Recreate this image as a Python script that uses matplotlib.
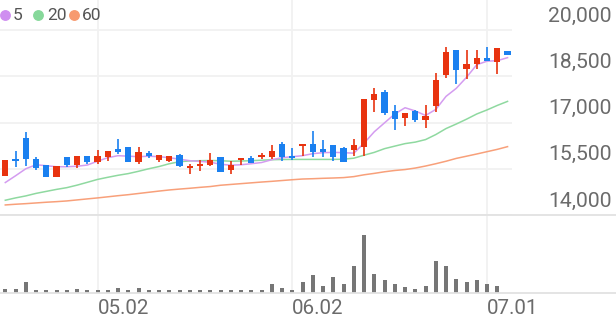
import matplotlib
matplotlib.use('Agg')
import matplotlib.pyplot as plt
import matplotlib.transforms as mtransforms
from matplotlib.lines import Line2D
import numpy as np

plt.rcParams['font.family'] = ['Roboto', 'DejaVu Sans']

# ---------------- data ----------------
opens = [15262, 15816, 16488, 15816, 15620, 15218, 15868, 15620, 15901, 15706,
         15868, 16129, 16194, 15728, 16011, 15793, 15761, 15946, 15522, 15598,
         15620, 15868, 15457, 15783, 15836, 15868, 15868, 16305, 15891, 16250,
         16305, 16142, 16283, 16162, 16120, 16217, 17740, 17989, 17368, 17140,
         17358, 17088, 17522, 18555, 19348, 18751, 18891, 19077, 18966, 19325]
highs = [15783, 16064, 16706, 15868, 15620, 15598, 15868, 15901, 15901, 16110,
         16064, 16468, 16194, 16217, 16087, 15946, 15901, 15979, 15653, 15783,
         16000, 15868, 15761, 15836, 15901, 16000, 16272, 16358, 16162, 16305,
         16716, 16436, 16283, 16194, 16468, 17773, 18131, 18043, 17554, 17303,
         17414, 17554, 18621, 19455, 19348, 19348, 19348, 19455, 19403, 19325]
lows = [15262, 15542, 15598, 15467, 15218, 15218, 15565, 15510, 15653, 15653,
        15761, 15979, 15728, 15653, 15836, 15706, 15706, 15565, 15327, 15435,
        15598, 15380, 15327, 15630, 15685, 15816, 15816, 15761, 15783, 15924,
        15868, 15891, 15738, 15706, 15924, 15924, 17336, 17228, 16762, 16902,
        17010, 16827, 17336, 18445, 18262, 18425, 18751, 18989, 18565, 19185]
closes = [15783, 15738, 15803, 15522, 15218, 15598, 15620, 15901, 15706, 15901,
          16064, 16031, 15728, 16031, 15901, 15946, 15901, 15598, 15565, 15653,
          15783, 15380, 15620, 15836, 15685, 15946, 16087, 15868, 15848, 16305,
          16031, 16054, 15868, 15728, 16272, 17773, 17936, 17303, 17121, 17303,
          17088, 17196, 18392, 19292, 18718, 18891, 19077, 18989, 19403, 19185]

ma5 = [15053, 15272, 15500, 15630, 15598, 15565, 15565, 15581, 15620, 15745,
       15859, 15924, 15908, 15891, 15908, 15891, 15859, 15810, 15761, 15738,
       15712, 15647, 15614, 15630, 15663, 15702, 15793, 15859, 15891, 15924,
       15989, 16022, 16031, 16022, 16005, 16330, 16700, 16990, 17277, 17479,
       17375, 17228, 17424, 17848, 18109, 18467, 18875, 18989, 19005, 19103]
ma20 = [14479, 14554, 14619, 14701, 14766, 14831, 14887, 14968, 15060, 15154,
        15223, 15288, 15343, 15418, 15500, 15572, 15663, 15728, 15754, 15761,
        15767, 15761, 15744, 15751, 15761, 15777, 15793, 15800, 15803, 15803,
        15803, 15803, 15803, 15810, 15842, 15940, 16031, 16152, 16234, 16315,
        16364, 16446, 16609, 16804, 16951, 17108, 17277, 17408, 17554, 17685]
ma60 = [14326, 14349, 14368, 14391, 14414, 14433, 14456, 14489, 14522, 14554,
        14590, 14626, 14659, 14698, 14737, 14776, 14812, 14841, 14867, 14897,
        14923, 14965, 14991, 15017, 15043, 15069, 15092, 15118, 15144, 15167,
        15177, 15190, 15200, 15213, 15245, 15304, 15350, 15402, 15444, 15474,
        15523, 15588, 15663, 15744, 15836, 15907, 15979, 16054, 16129, 16217]

volumes = [40000, 40000, 107000, 33000, 33000, 33000, 33000, 40000, 27000, 33000,
           33000, 50000, 33000, 47000, 27000, 27000, 27000, 33000, 27000, 27000,
           27000, 33000, 27000, 27000, 27000, 33000, 93000, 47000, 35000, 107000,
           183000, 67000, 157000, 90000, 267000, 580000, 193000, 133000, 93000, 60000,
           43000, 67000, 317000, 273000, 143000, 110000, 127000, 90000, 67000, 0]

ma_periods = ['5', '20', '60']
price_ticks = [14000, 15500, 17000, 18500, 20000]
price_tick_labels = ['14,000', '15,500', '17,000', '18,500', '20,000']
date_ticks = [9, 28, 47]
date_labels = ['05.02', '06.02', '07.01']

# ---------------- style ----------------
RED = '#e8330f'
BLUE = '#1a80f0'
MA_COLORS = ['#d49cf0', '#8fd9a0', '#f8a07a']
DOT_COLORS = ['#cf8ef0', '#86d89a', '#f79a70']
GRID = '#f1f1f1'
SEP = '#e2e2e2'
TXT = '#6b6b6b'

W, H = 616, 321
fig = plt.figure(figsize=(W / 100, H / 100), dpi=100)
fig.patch.set_facecolor('white')

plot_w = 512
ax = fig.add_axes([0, (H - 215) / H, plot_w / W, 215 / H])
axv = fig.add_axes([0, (H - 293) / H, plot_w / W, 78 / H], sharex=ax)

n = len(closes)
x = np.arange(n)
o = np.array(opens, float)
c = np.array(closes, float)
hi = np.array(highs, float)
lo = np.array(lows, float)

xl = (-5.3 / 10.25, (plot_w - 5.3) / 10.25)
for a in (ax, axv):
    a.set_xlim(*xl)
    for s in a.spines.values():
        s.set_visible(False)
    a.tick_params(left=False, bottom=False, labelleft=False, labelbottom=False)
    a.set_facecolor('none')

ax.set_ylim(14000, 14000 + 215 * (1500 / 46.25))
axv.set_ylim(0, 780000)

# grid
for t in price_ticks:
    ax.axhline(t, color=GRID, lw=1.3, zorder=0)
for t in date_ticks:
    ax.axvline(t, color=GRID, lw=1.3, zorder=0)
    axv.axvline(t, color=GRID, lw=1.3, zorder=0)

# candles
up = c >= o
cols = np.where(up, RED, BLUE)
ax.vlines(x, lo, hi, colors=cols, linewidth=1.2, zorder=3)
body_bottom = np.minimum(o, c)
body_h = np.maximum(np.abs(c - o), 55)
ax.bar(x, body_h, bottom=body_bottom, width=0.6, color=cols, linewidth=0, zorder=4)

# moving averages
for ma, col in zip([ma60, ma20, ma5], MA_COLORS[::-1]):
    ax.plot(x, ma, color=col, lw=1.1, zorder=2)

# volume
axv.bar(x, volumes, width=0.4, color='#767676', linewidth=0, zorder=3)

# separators (full width)
for yy in (215, 293):
    fig.add_artist(Line2D([0, 1], [(H - yy) / H] * 2, transform=fig.transFigure,
                          color=SEP, lw=1.3))

# price labels (right, above gridlines)
off = mtransforms.ScaledTranslation(0, 14 / 100, fig.dpi_scale_trans)
tr = mtransforms.blended_transform_factory(fig.transFigure, ax.transData) + off
for t, lab in zip(price_ticks, price_tick_labels):
    fig.text(612 / W, t, lab, transform=tr, ha='right', va='center',
             fontsize=15.2, color=TXT)

# date labels
for t, lab in zip(date_ticks, date_labels):
    trd = mtransforms.blended_transform_factory(ax.transData, fig.transFigure)
    fig.text(t, (H - 309) / H, lab, transform=trd, ha='left', va='center',
             fontsize=14.8, color=TXT)

# legend
dot_x = [5, 38, 74]
txt_x = [13, 47, 82]
for dx, tx, lab, col in zip(dot_x, txt_x, ma_periods, DOT_COLORS):
    fig.add_artist(Line2D([dx / W], [(H - 15) / H], transform=fig.transFigure,
                          marker='o', markersize=6.8, color=col, linestyle='none'))
    fig.text(tx / W, (H - 15) / H, lab, ha='left', va='center', fontsize=12.5,
             color='#555555')

fig.savefig('out.png', dpi=100, facecolor='white')
